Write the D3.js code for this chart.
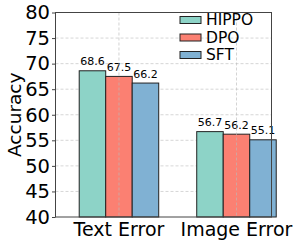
<!DOCTYPE html>
<html><head><meta charset="utf-8">
<script src="https://cdn.jsdelivr.net/npm/d3@7"></script>
<style>body{margin:0;background:#fff}svg{display:block;font-family:"DejaVu Sans",sans-serif}</style>
</head><body><svg id="c" width="299" height="246"></svg>
<script>
const categories = ["Text Error", "Image Error"];
const seriesNames = ["HIPPO", "DPO", "SFT"];
const hippo = [68.6, 56.7];
const dpo = [67.5, 56.2];
const sft = [66.2, 55.1];
const yTicks = [40, 45, 50, 55, 60, 65, 70, 75, 80];
const colors = ["#8dd3c7", "#fb8072", "#80b1d3"];
const seriesValues = [hippo, dpo, sft];

const svg = d3.select("#c");
const L = 55.5, R = 271.5, T = 12.5, B = 217;
const x = d3.scaleLinear().domain([-0.54, 1.298]).range([L, R]);
const y = d3.scaleLinear().domain([40, 80]).range([B, T]);
const bw = 0.2255;

// grid
svg.append("g").selectAll("line").data(yTicks.slice(1, -1)).join("line")
  .attr("x1", L).attr("x2", R).attr("y1", d => y(d)).attr("y2", d => y(d))
  .attr("stroke", "#cccccc").attr("stroke-width", 0.8).attr("stroke-dasharray", "3,2");

// bars
seriesValues.forEach((vals, s) => {
  svg.append("g").selectAll("rect").data(vals).join("rect")
    .attr("x", (d, i) => x(i + (s - 1) * bw - bw / 2))
    .attr("width", x(bw) - x(0))
    .attr("y", d => y(d))
    .attr("height", d => y(40) - y(d))
    .attr("fill", colors[s]).attr("stroke", "#222").attr("stroke-width", 1);
  svg.append("g").selectAll("text").data(vals).join("text")
    .attr("x", (d, i) => x(i + (s - 1) * bw))
    .attr("y", d => y(d) - 5.5)
    .attr("text-anchor", "middle").attr("font-size", 11).attr("fill", "#000")
    .text(d => d.toFixed(1));
});

// vertical grid over bars
svg.append("g").selectAll("line").data(categories).join("line")
  .attr("x1", (d, i) => x(i)).attr("x2", (d, i) => x(i)).attr("y1", T).attr("y2", B)
  .attr("stroke", "#bbbbbb").attr("stroke-width", 0.8).attr("stroke-dasharray", "3,2").attr("opacity", 0.8);

// frame
svg.append("rect").attr("x", L).attr("y", T).attr("width", R - L).attr("height", B - T)
  .attr("fill", "none").attr("stroke", "#444").attr("stroke-width", 1);

// y axis
const yAxis = d3.axisLeft(y).tickValues(yTicks).tickSize(3.5).tickPadding(2);
const gy = svg.append("g").attr("transform", `translate(${L},0)`).call(yAxis);
gy.select(".domain").remove();
gy.selectAll("line").attr("stroke", "#444");
gy.selectAll("text").attr("font-size", 19.5).attr("fill", "#000").attr("font-family", "DejaVu Sans");

// x axis
const gx = svg.append("g");
gx.selectAll("text").data(categories).join("text")
  .attr("x", (d, i) => x(i)).attr("y", 236).attr("text-anchor", "middle")
  .attr("font-size", 19).attr("fill", "#000").text(d => d);

// y label
svg.append("text").attr("transform", `translate(21,${(T + B) / 2}) rotate(-90)`)
  .attr("text-anchor", "middle").attr("font-size", 18.5).attr("fill", "#000").text("Accuracy");

// legend
const lg = svg.append("g").selectAll("g").data(seriesNames).join("g")
  .attr("transform", (d, i) => `translate(180,${25 + i * 17.5})`);
lg.append("rect").attr("x", 0).attr("y", -8.5).attr("width", 21).attr("height", 7)
  .attr("fill", (d, i) => colors[i]).attr("stroke", "#222").attr("stroke-width", 1);
lg.append("text").attr("x", 26).attr("y", 0).attr("font-size", 15.5).attr("fill", "#000").text(d => d);
</script></body></html>
